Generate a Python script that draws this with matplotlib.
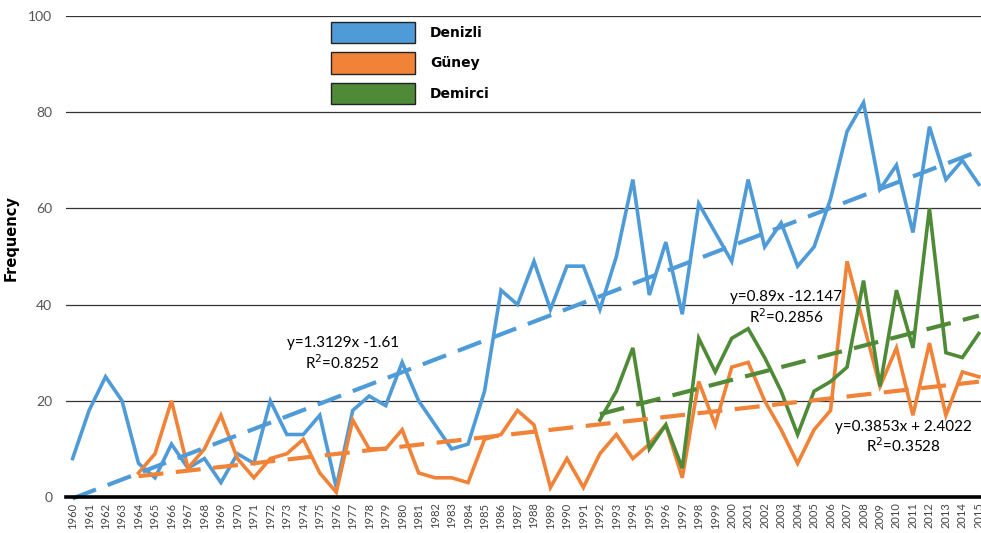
import matplotlib.pyplot as plt
import numpy as np
from matplotlib.patches import Patch

years = list(range(1960, 2016))

denizli = [8, 18, 25, 20, 7, 4, 11, 6, 8, 3,
           9, 7, 20, 13, 13, 17, 2, 18, 21, 19,
           28, 20, 15, 10, 11, 22, 43, 40, 49, 39,
           48, 48, 39, 50, 66, 42, 53, 38, 61, 55,
           49, 66, 52, 57, 48, 52, 62, 76, 82, 64,
           69, 55, 77, 66, 70, 65]

guney_years = list(range(1964, 2016))
guney = [5, 9, 20, 6, 10, 17, 8, 4, 8, 9,
         12, 5, 1, 16, 10, 10, 14, 5, 4, 4,
         3, 12, 13, 18, 15, 2, 8, 2, 9, 13,
         8, 11, 15, 4, 24, 15, 27, 28, 20, 14,
         7, 14, 18, 49, 36, 23, 31, 17, 32, 17,
         26, 25]

demirci_years = list(range(1992, 2016))
demirci = [16, 22, 31, 10, 15, 6, 33, 26, 33, 35,
           29, 22, 13, 22, 24, 27, 45, 23, 43, 31,
           60, 30, 29, 34]

# trend coefficients as printed on the chart (x = 1 for 1960)
trends = {
    'Denizli': (1.3129, -1.61),
    'Güney': (0.3853, 2.4022),
    'Demirci': (0.89, -12.147),
}

colors = {'Denizli': '#4e9bd8', 'Güney': '#f08338', 'Demirci': '#4f8a36'}


def trend(name, yrs):
    a, b = trends[name]
    x = np.array(yrs) - 1959
    return a * x + b


def main():
    plt.rcParams['font.family'] = ['Lato', 'DejaVu Sans']
    fig = plt.figure(figsize=(9.81, 5.33), dpi=100)
    ax = fig.add_axes([0.0673, 0.0675, 0.9327, 0.9024])

    for v in [20, 40, 60, 80, 100]:
        ax.axhline(v, color='#333333', lw=0.9, zorder=1)
    ax.axhline(0, color='black', lw=2.6, zorder=4, clip_on=False)

    series = [('Denizli', years, denizli),
              ('Güney', guney_years, guney),
              ('Demirci', demirci_years, demirci)]
    for name, xs, ys in series:
        ax.plot(xs, ys, color=colors[name], lw=2.6, zorder=3,
                solid_joinstyle='miter', clip_on=False)
    for name, xs, ys in series:
        ax.plot([xs[0], xs[-1]], trend(name, [xs[0], xs[-1]]),
                color=colors[name], lw=3, dashes=(6, 3), zorder=3,
                clip_on=False)

    ax.set_xlim(1959.6, 2015.13)
    ax.set_ylim(0, 100)
    ax.set_xticks(years)
    ax.set_xticklabels([str(y) for y in years], rotation=90,
                       fontsize=8, color='#444444')
    ax.set_yticks([0, 20, 40, 60, 80, 100])
    ax.tick_params(axis='y', labelsize=10, labelcolor='#555555', length=0, pad=10)
    ax.tick_params(axis='x', length=0, pad=4)
    for s in ax.spines.values():
        s.set_visible(False)
    ax.set_ylabel('Frequency', fontsize=10.5, fontweight='bold',
                  family='DejaVu Sans')
    ax.yaxis.set_label_coords(-0.052, 0.538)

    tk = dict(fontsize=11, ha='center', va='center')
    ax.text(1976.4, 32.0, 'y=1.3129x -1.61', **tk)
    ax.text(1976.4, 28.0, 'R$^2$=0.8252', **tk)
    ax.text(2003.3, 41.6, 'y=0.89x -12.147', **tk)
    ax.text(2003.3, 37.5, 'R$^2$=0.2856', **tk)
    ax.text(2010.4, 14.6, 'y=0.3853x + 2.4022', **tk)
    ax.text(2010.4, 10.7, 'R$^2$=0.3528', **tk)

    handles = [Patch(facecolor=colors[n], edgecolor='#222222', lw=1)
               for n in ['Denizli', 'Güney', 'Demirci']]
    fig.legend(handles, ['Denizli', 'Güney', 'Demirci'],
               loc='upper left', bbox_to_anchor=(0.325, 0.983),
               frameon=False, handlelength=6.0, handleheight=2.0,
               labelspacing=0.65, handletextpad=1.1,
               prop={'weight': 'bold', 'size': 10, 'family': 'DejaVu Sans'})
    fig.savefig('out.png', dpi=100)


if __name__ == '__main__':
    main()
